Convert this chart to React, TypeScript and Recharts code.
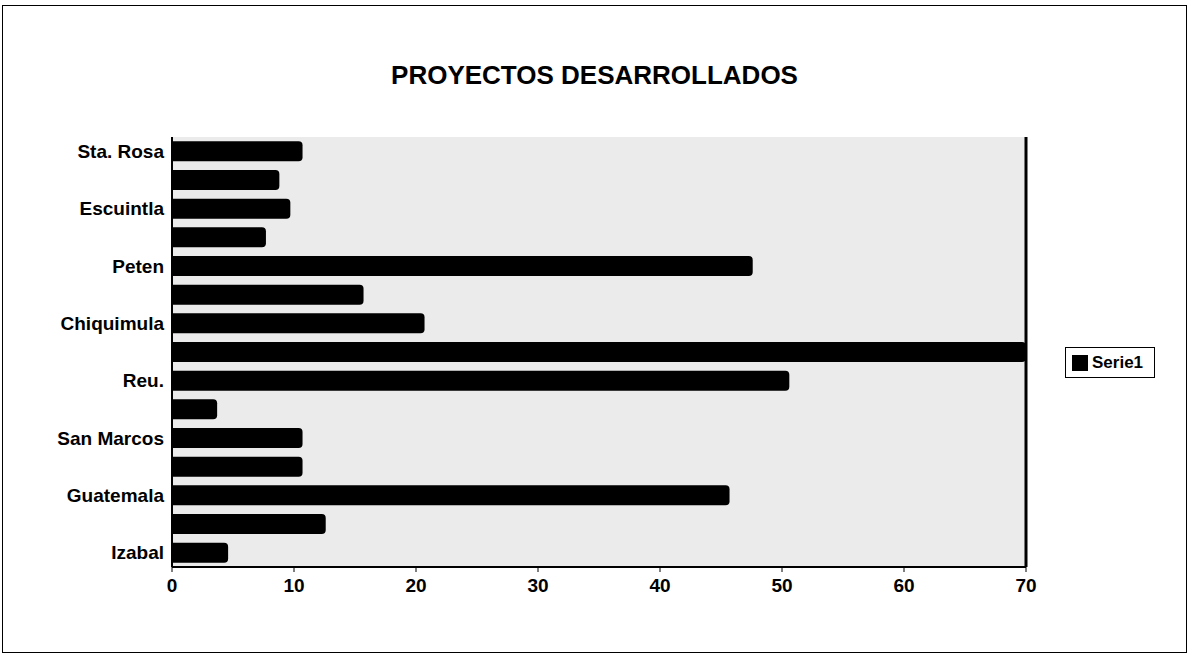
import { BarChart, Bar, XAxis, YAxis, CartesianGrid, ReferenceLine } from 'recharts'

const categories = [
  'Sta. Rosa', '', 'Escuintla', '', 'Peten', '', 'Chiquimula', '',
  'Reu.', '', 'San Marcos', '', 'Guatemala', '', 'Izabal',
]
const serie1 = [10.7, 8.8, 9.7, 7.7, 47.6, 15.7, 20.7, 70, 50.6, 3.7, 10.7, 10.7, 45.7, 12.6, 4.6]
const xTicks = [0, 10, 20, 30, 40, 50, 60, 70]

const data = categories.map((name, i) => ({ idx: i, name, Serie1: serie1[i] }))

const FONT = '"Liberation Sans", Arial, sans-serif'

// legend drawn as a plain box at the right, like the original
const LegendBox = () => (
  <div
    style={{
      position: 'absolute',
      left: 1065,
      top: 347,
      width: 90,
      height: 31,
      border: '1px solid #000',
      boxSizing: 'border-box',
      display: 'flex',
      alignItems: 'center',
      paddingLeft: 6,
      fontFamily: FONT,
      fontWeight: 'bold',
      fontSize: 17,
      background: '#fff',
    }}
  >
    <span style={{ width: 16, height: 16, background: '#000', display: 'inline-block', marginRight: 4 }} />
    Serie1
  </div>
)

export default function App() {
  return (
    <div style={{ position: 'absolute', left: 0, top: 0, width: 1189, height: 656 }}>
      <div
        style={{
          position: 'absolute',
          left: 2,
          top: 5,
          width: 1183,
          height: 646,
          border: '1px solid #000',
        }}
      />
      <div
        style={{
          position: 'absolute',
          left: 0,
          top: 60,
          width: 1189,
          textAlign: 'center',
          fontFamily: FONT,
          fontWeight: 'bold',
          fontSize: 26,
        }}
      >
        PROYECTOS DESARROLLADOS
      </div>
      <div style={{ position: 'absolute', left: 0, top: 0 }}>
        <BarChart
          width={1189}
          height={656}
          data={data}
          layout="vertical"
          margin={{ top: 137, right: 163, bottom: 59, left: 12 }}
          barCategoryGap="15%"
        >
          <CartesianGrid fill="#ebebeb" horizontal={false} vertical={false} />
          <XAxis
            type="number"
            domain={[0, 70]}
            ticks={xTicks}
            axisLine={{ stroke: '#000', strokeWidth: 2 }}
            tickLine={{ stroke: '#000' }}
            tickSize={5}
            tickMargin={7}
            tick={{ fill: '#000', fontFamily: FONT, fontWeight: 'bold', fontSize: 19 }}
            height={30}
          />
          <YAxis
            type="category"
            dataKey="idx"
            width={160}
            interval={0}
            tickFormatter={(v: number) => categories[v]}
            axisLine={{ stroke: '#000', strokeWidth: 2 }}
            tickLine={false}
            tick={{ fill: '#000', fontFamily: FONT, fontWeight: 'bold', fontSize: 19 }}
          />
          <ReferenceLine x={70} stroke="#000" strokeWidth={3} />
          <Bar dataKey="Serie1" fill="#000" radius={[0, 4, 4, 0]} isAnimationActive={false} />
        </BarChart>
      </div>
      <LegendBox />
    </div>
  )
}
